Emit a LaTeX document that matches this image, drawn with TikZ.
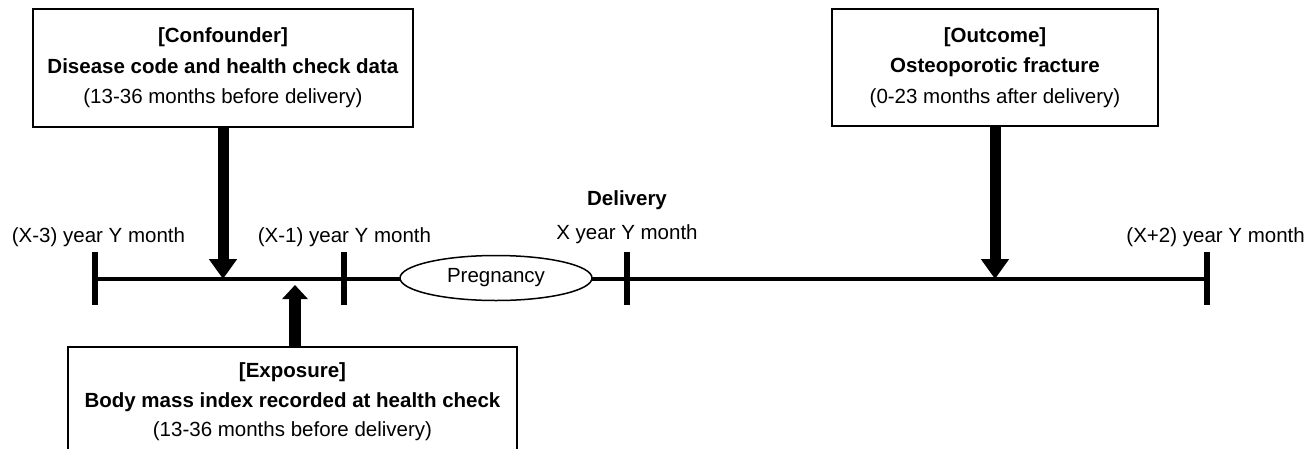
\documentclass[tikz,border=0pt]{standalone}
\usepackage{fontspec}
\setmainfont{Liberation Sans}
\usetikzlibrary{arrows.meta,shapes.geometric}
\begin{document}
\begin{tikzpicture}[x=1pt,y=-1pt,
  infobox/.style={draw=black,line width=1.5pt,fill=white,align=center,inner sep=0pt,font=\fontsize{20.5}{30.5}\selectfont},
  lbl/.style={anchor=base,inner sep=0pt,font=\fontsize{20.5}{24}\selectfont},
  tickline/.style={line width=6pt},
  timeline/.style={line width=4pt},
  bigarrow/.style={line width=11pt,-{Triangle[length=20pt,width=27pt]}},
  smallarrow/.style={line width=12pt,-{Triangle[length=14pt,width=25pt]}}
]
\useasboundingbox (0,0) rectangle (1307,448);
\fill[white] (0,0) rectangle (1307,448);

% boxes
\node[infobox,minimum width=380pt,minimum height=118pt] (conf) at (223,68)
  {\textbf{[Confounder]}\\\textbf{Disease code and health check data}\\(13-36 months before delivery)};
\node[infobox,minimum width=326pt,minimum height=117pt] (outc) at (995,67.5)
  {\textbf{[Outcome]}\\\textbf{Osteoporotic fracture}\\(0-23 months after delivery)};
\node[infobox,minimum width=449pt,minimum height=110pt,font=\fontsize{20.5}{29.5}\selectfont] (expo) at (292.5,402)
  {\textbf{[Exposure]}\\\textbf{Body mass index recorded at health check}\\(13-36 months before delivery)};

% timeline
\coordinate (t1) at (95,279);
\coordinate (t2) at (344,279);
\coordinate (t3) at (627,279);
\coordinate (t4) at (1207,279);
\draw[timeline] (t1) -- (t4);
\draw[tickline] (t1) ++(0,-27) -- ++(0,53);
\draw[tickline] (t2) ++(0,-27) -- ++(0,53);
\draw[tickline] (t3) ++(0,-27) -- ++(0,53);
\draw[tickline] (t4) ++(0,-27) -- ++(0,53);

\node[ellipse,draw=black,line width=1.5pt,fill=white,minimum width=192pt,minimum height=45pt,inner sep=0pt,font=\fontsize{20.5}{24}\selectfont] (preg) at (496,278) {Pregnancy};

% labels
\node[lbl] (l1) at (98.5,242) {(X-3) year Y month};
\node[lbl] (l2) at (344.5,242) {(X-1) year Y month};
\node[lbl] (ldel) at (627,205) {\bfseries Delivery};
\node[lbl] (l3) at (627,239) {X year Y month};
\node[lbl,anchor=base east] (l4) at (1305,242) {(X+2) year Y month};

% arrows
\coordinate (confTip) at (223,279);
\coordinate (outTip) at (995,279);
\coordinate (expTip) at (295,285);
\draw[bigarrow] (conf.south) -- (confTip);
\draw[bigarrow] (outc.south) -- (outTip);
\draw[smallarrow] (expo.north -| expTip) -- (expTip);
\end{tikzpicture}
\end{document}
